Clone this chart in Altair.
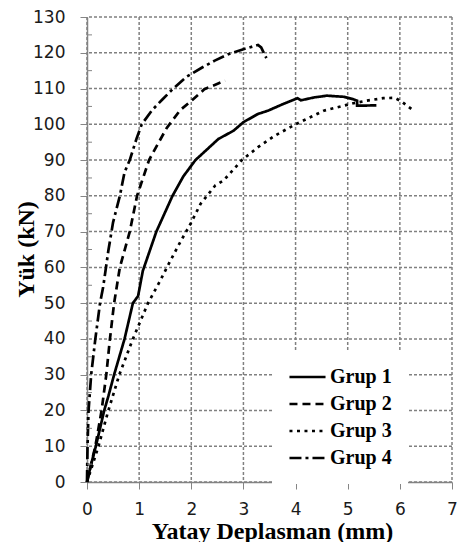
import altair as alt
import pandas as pd

# Grup 1 (solid)
g1_x = [0, 0.08, 0.17, 0.25, 0.33, 0.41, 0.52, 0.72, 0.88, 0.98, 1.07, 1.33, 1.64, 1.85, 2.08,
        2.52, 2.81, 3.0, 3.28, 3.47, 3.75, 4.04, 4.1, 4.35, 4.6, 4.92, 5.11, 5.18, 5.18, 5.55]
g1_y = [0, 5, 10, 15, 20, 24, 30, 40, 50, 52, 59, 70, 80, 85.5, 90,
        95.9, 98.2, 100.6, 102.9, 103.8, 105.6, 107.3, 106.7, 107.5, 108.0, 107.7, 107.0, 106.6, 105.2, 105.3]
# Grup 2 (dashed)
g2_x = [0, 0.08, 0.16, 0.28, 0.37, 0.44, 0.52, 0.63, 0.82, 0.96, 1.19, 1.32, 1.53, 1.79, 2.02, 2.25, 2.45, 2.65]
g2_y = [0, 5, 10, 20, 30, 40, 50, 60, 70, 80, 90, 93.5, 99, 104, 106.8, 109.8, 111, 112.2]
# Grup 3 (dotted)
g3_x = [0, 0.11, 0.22, 0.41, 0.62, 0.88, 1.17, 1.39, 1.55, 1.77, 1.99, 2.18, 2.46, 2.62, 2.97,
        3.28, 3.6, 4.0, 4.54, 5.11, 5.4, 5.68, 5.9, 6.03, 6.22]
g3_y = [0, 5, 10, 20, 30, 40, 50, 55.9, 60.5, 66.6, 72.3, 77.8, 82.9, 84.3, 90,
        93.6, 96.8, 100, 103.8, 105.9, 106.7, 107.3, 107.4, 106.4, 104.3]
# Grup 4 (dash-dot)
g4_x = [0, 0.01, 0.03, 0.08, 0.16, 0.25, 0.31, 0.41, 0.5, 0.63, 0.72, 0.82, 0.95, 1.05, 1.25,
        1.45, 1.64, 1.9, 2.2, 2.45, 2.71, 3.0, 3.28, 3.34, 3.44]
g4_y = [0, 10, 20, 30, 40, 50, 54.5, 64.7, 72.6, 80, 86.6, 90, 96, 100, 104,
        107, 109.8, 113.2, 115.8, 117.8, 119.6, 121, 122.2, 121.5, 118.5]

groups = ["Grup 1", "Grup 2", "Grup 3", "Grup 4"]
x_ticks = [0, 1, 2, 3, 4, 5, 6, 7]
y_ticks = list(range(0, 131, 10))
y_minor = list(range(5, 130, 10))

rows = []
for name, xs, ys in zip(groups, [g1_x, g2_x, g3_x, g4_x], [g1_y, g2_y, g3_y, g4_y]):
    for i, (xv, yv) in enumerate(zip(xs, ys)):
        rows.append({"grup": name, "x": xv, "y": yv, "i": i})
df = pd.DataFrame(rows)
minor_df = pd.DataFrame({"y": y_minor})
xgrid_df = pd.DataFrame({"x": x_ticks})
ygrid_df = pd.DataFrame({"y": y_ticks})

GRAY = "#858585"
GRID = "#808080"

common_axis = dict(
    grid=False,
    domainColor=GRAY, domainWidth=1.5, tickColor=GRAY, tickSize=7,
    labelFont="DejaVu Sans", labelFontSize=17, labelColor="#1a1a1a",
    labelOverlap=False, labelFlush=False,
    titleFont="Liberation Serif", titleFontWeight="bold", titleFontSize=24, titleColor="black",
)

x_enc = alt.X("x:Q", scale=alt.Scale(domain=[0, 7], nice=False),
              axis=alt.Axis(values=x_ticks, title="Yatay Deplasman (mm)", titleX=185, titleY=56,
                            titleBaseline="alphabetic", titleAlign="center", labelPadding=12,
                            **common_axis))
y_enc = alt.Y("y:Q", scale=alt.Scale(domain=[0, 130], nice=False),
              axis=alt.Axis(values=y_ticks, title="Yük (kN)", titleX=-61, titleY=232,
                            titleAngle=-90, titleBaseline="middle", titleAlign="center",
                            labelPadding=15, **common_axis))

xgrid = alt.Chart(xgrid_df).mark_rule(color=GRID, strokeWidth=1.5, strokeDash=[3, 2],
                                      opacity=1).encode(x=x_enc)
ygrid = alt.Chart(ygrid_df).mark_rule(color=GRID, strokeWidth=1.5, strokeDash=[3, 2],
                                      opacity=1).encode(y=y_enc)

lines = alt.Chart(df).mark_line(color="black", strokeWidth=2.7).encode(
    x=x_enc,
    y=y_enc,
    strokeDash=alt.StrokeDash(
        "grup:N",
        scale=alt.Scale(domain=groups, range=[[1, 0], [8, 5], [3, 4.5], [12, 4, 3, 4]]),
        legend=alt.Legend(title=None, orient="none", legendX=185, legendY=334,
                          fillColor="white", padding=16, symbolType="stroke",
                          symbolSize=1300, symbolStrokeWidth=2.7, symbolStrokeColor="black",
                          clipHeight=20, rowPadding=7, labelOffset=3,
                          labelFont="Liberation Serif", labelFontWeight="bold",
                          labelFontSize=20, labelColor="black"),
    ),
    order="i:Q",
)

minor = alt.Chart(minor_df).mark_rule(color=GRAY, strokeWidth=1).encode(
    y=y_enc,
    x=alt.value(0),
    x2=alt.value(5),
)

chart = alt.layer(xgrid, ygrid, lines, minor).properties(
    width=365,
    height=465,
    autosize=alt.AutoSizeParams(type="none"),
    padding={"left": 79, "top": 9, "right": 5, "bottom": 60},
).configure_view(stroke=None, fill=None)

chart.save("out.html", embed_options={"renderer": "svg", "actions": False})
